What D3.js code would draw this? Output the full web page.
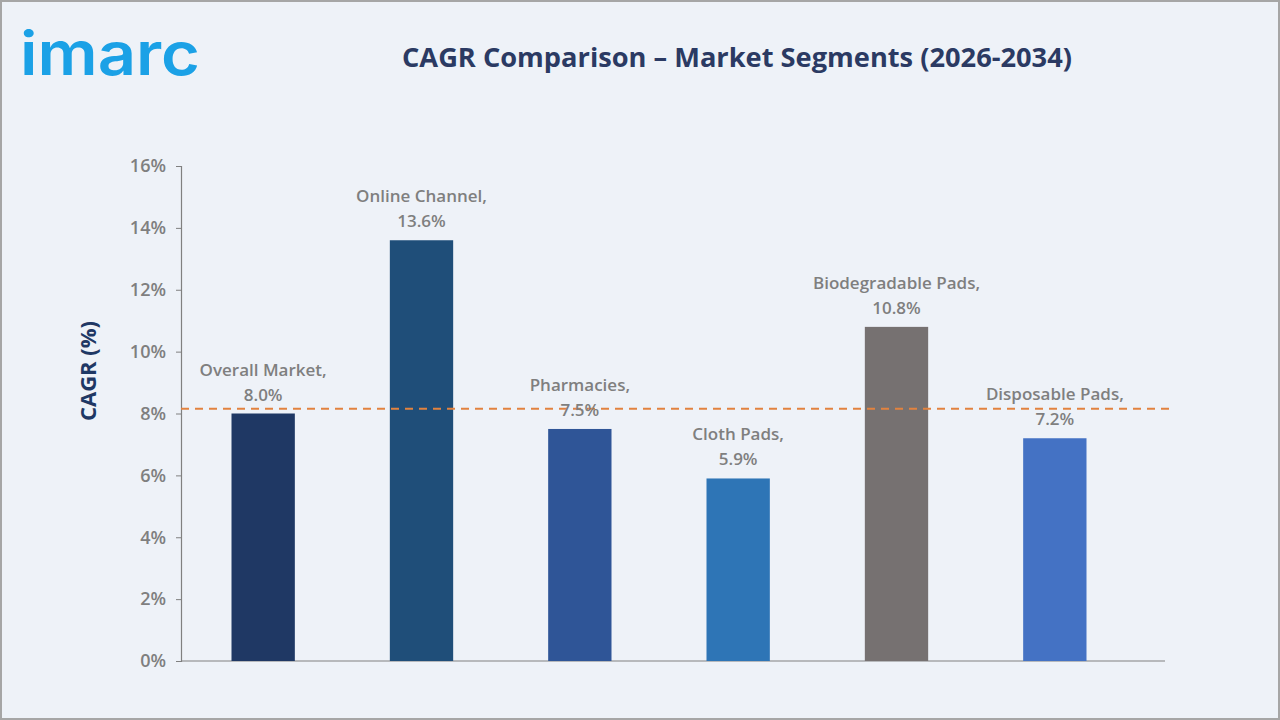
<!DOCTYPE html>
<html>
<head>
<meta charset="utf-8">
<script src="https://cdn.jsdelivr.net/npm/d3@7"></script>
<style>
  html, body { margin: 0; padding: 0; background: #eef2f8; }
  svg { display: block; }
</style>
</head>
<body>
<div id="chart"></div>
<script>
// data
const categories = ["Overall Market", "Online Channel", "Pharmacies", "Cloth Pads", "Biodegradable Pads", "Disposable Pads"];
const cagrValues = [8.0, 13.6, 7.5, 5.9, 10.8, 7.2];
const barColors = ["#1f3864", "#1f4e79", "#2f5597", "#2e75b6", "#767171", "#4472c4"];
const yTicks = [0, 2, 4, 6, 8, 10, 12, 14, 16];
const refLine = 8.15;

const width = 1280, height = 720;

const svg = d3.select("#chart")
  .append("svg")
  .attr("width", width)
  .attr("height", height);

// background + frame
svg.append("rect")
  .attr("x", 1).attr("y", 1)
  .attr("width", width - 2).attr("height", height - 2)
  .attr("fill", "#eef2f8")
  .attr("stroke", "#a6a6a6")
  .attr("stroke-width", 2);

// logo
svg.append("text")
  .attr("x", 20).attr("y", 75)
  .attr("font-family", "Inter, sans-serif")
  .attr("font-weight", 600)
  .attr("font-size", 60)
  .attr("textLength", 180)
  .attr("lengthAdjust", "spacingAndGlyphs")
  .attr("fill", "#1ba1e6")
  .text("imarc");

// title
svg.append("text")
  .attr("x", 737).attr("y", 67)
  .attr("text-anchor", "middle")
  .attr("font-family", "'Open Sans', sans-serif")
  .attr("font-weight", 700)
  .attr("font-size", 27)
  .attr("textLength", 670)
  .attr("lengthAdjust", "spacingAndGlyphs")
  .attr("fill", "#2b3a63")
  .text("CAGR Comparison – Market Segments (2026-2034)");

// scales
const x = d3.scaleBand()
  .domain(categories)
  .range([184, 1134])
  .paddingInner(0.6)
  .paddingOuter(0.3);

const y = d3.scaleLinear()
  .domain([0, 16])
  .range([661, 166]);

// y axis
const yAxis = d3.axisLeft(y)
  .tickValues(yTicks)
  .tickSize(5)
  .tickPadding(10)
  .tickFormat(d => d + "%");

const gy = svg.append("g")
  .attr("transform", "translate(181,0)")
  .call(yAxis);

gy.select(".domain").attr("stroke", "#808080").attr("stroke-width", 1.2);
gy.selectAll(".tick line").attr("stroke", "#808080");
gy.selectAll(".tick text")
  .attr("font-family", "'Open Sans', sans-serif")
  .attr("font-weight", 600)
  .attr("font-size", 18)
  .attr("fill", "#7f7f7f");

// x axis baseline
svg.append("line")
  .attr("x1", 181).attr("x2", 1165)
  .attr("y1", y(0)).attr("y2", y(0))
  .attr("stroke", "#808080")
  .attr("stroke-width", 1.2);

// y axis title
svg.append("text")
  .attr("transform", "translate(96,371) rotate(-90)")
  .attr("text-anchor", "middle")
  .attr("font-family", "'Open Sans', sans-serif")
  .attr("font-weight", 700)
  .attr("font-size", 22)
  .attr("fill", "#1f3864")
  .text("CAGR (%)");

// bars
svg.selectAll("rect.bar")
  .data(categories)
  .enter()
  .append("rect")
  .attr("class", "bar")
  .attr("x", d => x(d))
  .attr("y", (d, i) => y(cagrValues[i]))
  .attr("width", x.bandwidth())
  .attr("height", (d, i) => y(0) - y(cagrValues[i]))
  .attr("fill", (d, i) => barColors[i]);

// reference line
svg.append("line")
  .attr("x1", 181).attr("x2", 1173)
  .attr("y1", y(refLine)).attr("y2", y(refLine))
  .attr("stroke", "#e2823f")
  .attr("stroke-width", 2)
  .attr("stroke-dasharray", "8,6");

// labels
const labels = svg.selectAll("text.lbl")
  .data(categories)
  .enter()
  .append("text")
  .attr("class", "lbl")
  .attr("text-anchor", "middle")
  .attr("font-family", "'Open Sans', sans-serif")
  .attr("font-weight", 600)
  .attr("font-size", 17)
  .attr("fill", "#7f7f7f");

labels.append("tspan")
  .attr("x", d => x(d) + x.bandwidth() / 2)
  .attr("y", (d, i) => y(cagrValues[i]) - 38)
  .text(d => d + ",");

labels.append("tspan")
  .attr("x", d => x(d) + x.bandwidth() / 2)
  .attr("y", (d, i) => y(cagrValues[i]) - 13)
  .text((d, i) => cagrValues[i].toFixed(1) + "%");
</script>
</body>
</html>
